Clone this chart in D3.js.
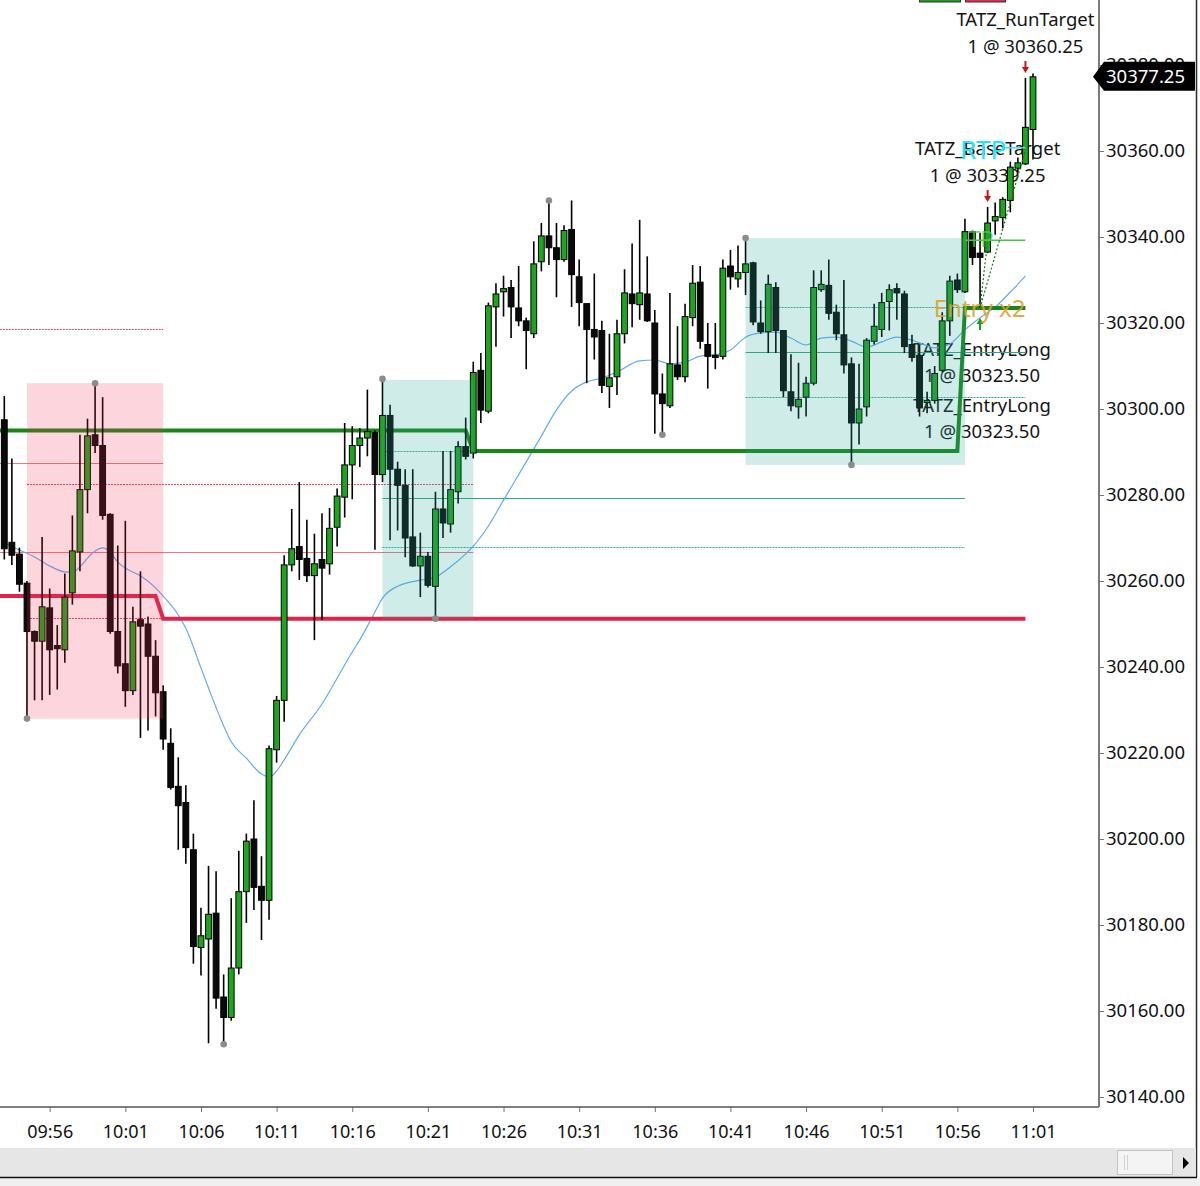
<!DOCTYPE html>
<html>
<head>
<meta charset="utf-8">
<script src="https://cdn.jsdelivr.net/npm/d3@7"></script>
<style>
  body { margin: 0; background: #fff; }
  svg { display: block; font-family: "Noto Sans", "Open Sans", sans-serif; }
</style>
</head>
<body>
<svg id="chart" width="1200" height="1186"></svg>
<script>
// 30 second bars, first bar stamped 09:53:00
var BAR_START = "09:53:00";
var BAR_SECONDS = 30;

var opens = [30297.5,30269,30266.25,30259.5,30248.25,30246,30253.75,30245,30244,30257.25,
  30266.75,30281.25,30294,30291.5,30275.5,30248.25,30240.75,30234.5,30251,30250,
  30242.5,30234.25,30222.25,30212.25,30208.5,30197.5,30174.75,30176.75,30182.75,30163.25,
  30158.5,30170,30187.75,30200,30189,30185.75,30220.75,30232.25,30263.75,30268,
  30265.25,30261.25,30265,30264,30272.5,30279.5,30287,30291.5,30293.25,30294.5,
  30284.75,30298.5,30286,30282.25,30270.25,30263.5,30265.75,30258.75,30276.75,30273.25,
  30280.75,30291.25,30289.75,30309,30299.5,30323.75,30327.25,30328.25,30323.5,30320.5,
  30317.5,30334.25,30340.25,30337.5,30334.75,30341.75,30330.75,30324.5,30318.5,30318.25,
  30305.25,30307.5,30317.5,30326.75,30324.25,30326.75,30320,30303.5,30300.75,30310.25,
  30307.5,30321.25,30329.5,30315,30312.5,30312.25,30333.25,30330.25,30331.75,30334,
  30320,30318,30328.25,30318.25,30304,30300.5,30302.75,30306,30327.75,30328.75,
  30322.5,30317.25,30310.5,30296.75,30300.5,30315.75,30318.5,30325,30328,30326.75,
  30315,30312.5,30301.5,30302,30309,30320.5,30330,30327.25,30341.25,30336.25,
  30336.5,30343.75,30344.5,30348.5,30356,30357,30365];
var highs = [30303,30288.5,30267.75,30260,30248.5,30270.25,30258.25,30249.75,30261.75,30275.25,
  30294,30297.75,30306,30302.75,30275.75,30268.25,30274,30254,30262.25,30251.75,
  30246.25,30235.75,30225.75,30219,30212.5,30201.25,30184,30193.75,30192.5,30168.5,
  30186.25,30197.25,30201.25,30209,30196,30221.75,30233.25,30266,30276.75,30283,
  30274.25,30271,30275.75,30277,30281.5,30296.75,30296,30295.5,30304.5,30295,
  30307,30301,30287.75,30286,30286,30271.25,30266.75,30280.75,30290.25,30290.25,
  30292.5,30298,30311,30313,30324.75,30329.25,30331,30330,30333.25,30321.25,
  30339,30343.25,30348.5,30343.25,30342.75,30348.5,30334.75,30324.5,30331.5,30320.5,
  30317.5,30320.75,30332.5,30338.5,30344,30335.5,30323,30308.25,30327,30319.25,
  30324.5,30333.5,30333.25,30320,30320,30334.75,30337,30338,30339.75,30334.25,
  30325.25,30331.25,30329.5,30318.25,30312.75,30310.75,30307.5,30332.25,30332.25,30334.75,
  30324.25,30330,30312,30310.5,30316.5,30324.5,30327,30329,30329.25,30327.5,
  30317.25,30315,30304,30310,30322.5,30331,30331.5,30344.25,30341.5,30341,
  30347,30348,30349.25,30357.5,30358.5,30377,30378];
var lows = [30265,30263.75,30257.5,30228,30232.25,30232.25,30233.5,30234.75,30241,30254.5,
  30262.25,30275.75,30289.75,30274.25,30247.75,30238.5,30230.75,30233.5,30223.5,30225.25,
  30228.5,30220.75,30211.5,30197.5,30194.25,30171,30168.25,30152.5,30160.5,30152.25,
  30157.75,30168.5,30180.5,30183.5,30176.5,30181.25,30217.75,30227.25,30262.25,30260.25,
  30259.75,30246.25,30251,30261.5,30268,30274.75,30279,30286.5,30289,30267.25,
  30283,30269.5,30271.75,30265.5,30263.25,30256.25,30258.5,30251.25,30270,30271.25,
  30278,30288.25,30288.5,30296.75,30299,30314.5,30321.5,30316.5,30319.25,30309.25,
  30316.5,30332,30333.5,30326,30334.25,30323.75,30319.25,30306,30311.5,30303.75,
  30300.25,30303.25,30315.25,30319,30320.75,30320.25,30294.25,30294,30300.25,30306.75,
  30306.25,30319.25,30314,30304.75,30309.25,30311.5,30327.75,30328.25,30326.5,30319.5,
  30317.5,30313,30313,30302.75,30299.5,30297.75,30298.25,30305.5,30327.25,30320.75,
  30316,30308.25,30287,30291.75,30298.25,30315,30316.75,30318.25,30320.75,30313,
  30311,30298.25,30299,30301.25,30308.5,30317,30327,30327,30333.5,30323.5,
  30336.25,30340.5,30342,30345.75,30355,30356.75,30358];
var closes = [30267.5,30266,30259.25,30248.25,30246,30254,30244,30244.25,30256.25,30267,
  30281.25,30293.75,30291.5,30275.25,30248.25,30240.25,30234.5,30250.5,30249.5,30242.5,
  30234,30223.25,30212,30207.75,30198,30175,30177.5,30182.5,30163,30158.5,
  30170,30187.75,30199.5,30188.75,30185.75,30221,30232.25,30263.75,30267.5,30265,
  30261.25,30264,30263,30272.25,30279.75,30287,30291.5,30293.25,30294.75,30284.75,
  30298.5,30286,30282.25,30270,30263.5,30265.75,30259,30276.75,30273.5,30281.25,
  30291.25,30289,30308.5,30299.75,30324,30326.75,30328,30323.75,30320.5,30318.25,
  30333.75,30340.25,30337.5,30334.75,30341.5,30331.25,30324.75,30318.5,30316.75,30305.5,
  30307.25,30317.5,30327,30324.5,30327,30320.5,30303.5,30301.25,30310.5,30307.5,
  30321.5,30329.25,30315.75,30312.25,30312,30332.75,30330.75,30331.75,30333.75,30320.25,
  30318,30329,30318.25,30304.25,30300.75,30302.25,30306,30328.25,30329,30322.25,
  30317.5,30310.25,30296.75,30300,30316,30319.25,30324.75,30327.75,30327,30314.5,
  30312,30300.25,30302,30308.25,30320.5,30329.75,30327.75,30341.25,30335.25,30335.25,
  30343.25,30344.75,30348.75,30356.25,30357.25,30365.5,30377.25];

// moving average at some bars
var maIdx = [0,2,4,6,8,9,10,11,12,13,14,15,16,18,20,21,23,24,26,27,29,30,32,34,35,36,37,39,42,44,
  46,47,49,50,52,55,57,59,61,62,64,66,69,71,73,75,77,79,81,84,86,88,90,92,94,96,98,100,102,104,
  106,108,110,112,114,116,118,120,122,123,125,127,129,131,133,135];
var maVal = [30268.8,30267.2,30265.6,30263.5,30262.1,30262,30263.3,30265.3,30267,30267.7,30266.7,30264.4,30263,30261.2,30258.4,
  30256.5,30252.1,30249,30239.8,30235.1,30226.3,30222.6,30218.8,30215.1,30214.4,30215.8,30218.4,30224.2,30231.4,30237.4,
  30243.5,30246.3,30252.8,30256,30258.8,30260.2,30260.9,30263.3,30266.3,30268.1,30272.8,30278.8,30287.7,30293.7,30299.8,
  30304.2,30306.3,30307.2,30308.6,30311.2,30311.4,30310.5,30310.9,30312.3,30312.6,30313.7,30316.7,30317.7,30317.9,30316.5,
  30314.9,30316.5,30316.7,30315.8,30314.4,30315.6,30316.7,30316,30314.7,30314.2,30315.1,30318.4,30321.2,30323.7,30327.2,30330.9];

// supply / demand zones
var zoneSide = ["sell", "buy", "buy"];
var zoneFrom = [3, 50, 98];
var zoneTo = [21, 62, 127];
var zoneHigh = [30306, 30306.75, 30339.75];
var zoneLow = [30228, 30251.25, 30287];

// zone levels
var levelPrice = [30318.5, 30287.5, 30282.5, 30266.75, 30251.5, 30290.25, 30279.25, 30268, 30323.75, 30313.25, 30302.75];
var levelFrom = [-1, -1, 3, -1, 3, 50, 50, 50, 98, 98, 98];
var levelTo = [21, 21, 62, 62, 21, 62, 127, 127, 135, 135, 135];
var levelKind = ["sellDot", "sell", "sellDot", "sell", "sellDot", "buyDot", "buy", "buyDot", "buyDot", "buy", "buyDot"];

// trailing lines
var longLineIdx = [-1, 61, 62, 126, 127, 135];
var longLinePrice = [30295, 30295, 30290.25, 30290.25, 30323.5, 30323.5];
var shortLineIdx = [-1, 20, 21, 135];
var shortLinePrice = [30256.5, 30256.5, 30251.25, 30251.25];

// swing points
var swingIdx = [3, 12, 29, 50, 57, 72, 87, 98, 112];
var swingSide = ["L", "H", "L", "H", "L", "H", "L", "H", "L"];

// executions
var entryNames = ["TATZ_EntryLong", "TATZ_EntryLong"];
var entryIdx = [129, 129];
var entryPrice = [30323.5, 30323.5];
var entryQty = [1, 1];
var exitNames = ["TATZ_BaseTarget", "TATZ_RunTarget"];
var exitIdx = [130, 135];
var exitPrice = [30339.25, 30360.25];
var exitQty = [1, 1];
var tpPrice = 30339.25;
var rtpPrice = 30360.75;

var priceTicks = [30140, 30160, 30180, 30200, 30220, 30240, 30260, 30280, 30300, 30320, 30340, 30360, 30380];
var timeTicks = ["09:56", "10:01", "10:06", "10:11", "10:16", "10:21", "10:26", "10:31", "10:36", "10:41", "10:46", "10:51", "10:56", "11:01"];

var svg = d3.select("#chart");
var W = 1200, H = 1186;
var PLOT_R = 1099, PLOT_B = 1107;

var parseBar = d3.timeParse("%H:%M:%S");
var parseTick = d3.timeParse("%H:%M");
var t0 = parseBar(BAR_START);
function barTime(i) { return d3.timeSecond.offset(t0, i * BAR_SECONDS); }

var x = d3.scaleTime().domain([barTime(0), barTime(closes.length - 1)]).range([4.3, 1033]);
var y = d3.scaleLinear().domain([30140, 30360]).range([1097, 151]);
function xi(i) { return x(barTime(i)); }
var fmt2 = d3.format(".2f");

svg.append("rect").attr("width", W).attr("height", H).attr("fill", "#fff");

svg.append("defs").append("clipPath").attr("id", "plotclip")
  .append("rect").attr("x", 0).attr("y", 0).attr("width", PLOT_R).attr("height", PLOT_B);

var plot = svg.append("g").attr("clip-path", "url(#plotclip)");

// execution labels sit under the candles
var lblG = plot.append("g").attr("font-size", 18.5).attr("fill", "#151515").attr("text-anchor", "middle");
exitNames.forEach(function(name, k) {
  var base = y(highs[exitIdx[k]]) - 25;
  lblG.append("text").attr("x", xi(exitIdx[k])).attr("y", base - 26.5).text(name);
  lblG.append("text").attr("x", xi(exitIdx[k])).attr("y", base).text(exitQty[k] + " @ " + fmt2(exitPrice[k]));
});
var entryOff = [[48, 74], [104, 130]];
entryNames.forEach(function(name, k) {
  var low = y(lows[entryIdx[k]]);
  lblG.append("text").attr("x", xi(entryIdx[k]) + 2).attr("y", low + entryOff[k][0]).text(name);
  lblG.append("text").attr("x", xi(entryIdx[k]) + 2).attr("y", low + entryOff[k][1]).text(entryQty[k] + " @ " + fmt2(entryPrice[k]));
});

// zone levels
var levelStyle = {
  sell: {stroke: "#f07484", dash: null},
  sellDot: {stroke: "#ee4560", dash: "2,1"},
  buy: {stroke: "#2aa78c", dash: null},
  buyDot: {stroke: "#2eae96", dash: "2,1"}
};
levelPrice.forEach(function(p, k) {
  var st = levelStyle[levelKind[k]];
  plot.append("line")
    .attr("x1", xi(levelFrom[k])).attr("x2", xi(levelTo[k]))
    .attr("y1", Math.round(y(p)) + 0.5).attr("y2", Math.round(y(p)) + 0.5)
    .attr("stroke", st.stroke).attr("stroke-width", 1)
    .attr("stroke-dasharray", st.dash);
});

// moving average
var maLine = d3.line()
  .x(function(d) { return xi(d[0]); })
  .y(function(d) { return y(d[1]); })
  .curve(d3.curveMonotoneX);
plot.append("path")
  .datum(maIdx.map(function(d, k) { return [d, maVal[k]]; }))
  .attr("d", maLine)
  .attr("fill", "none").attr("stroke", "#62acf4").attr("stroke-width", 1.2);

// trailing lines
var stepLine = d3.line().x(function(d) { return xi(d[0]); }).y(function(d) { return y(d[1]); });
plot.append("path")
  .datum(shortLineIdx.map(function(d, k) { return [d, shortLinePrice[k]]; }))
  .attr("d", stepLine).attr("fill", "none").attr("stroke", "#e0234b").attr("stroke-width", 4);
plot.append("path")
  .datum(longLineIdx.map(function(d, k) { return [d, longLinePrice[k]]; }))
  .attr("d", stepLine).attr("fill", "none").attr("stroke", "#1a861a").attr("stroke-width", 4);

// candles
var candles = d3.range(closes.length).map(function(i) {
  return {i: i, o: opens[i], h: highs[i], l: lows[i], c: closes[i]};
});
var cg = plot.append("g");
cg.selectAll("line.wick").data(candles).enter().append("line")
  .attr("class", "wick")
  .attr("x1", function(d) { return xi(d.i); }).attr("x2", function(d) { return xi(d.i); })
  .attr("y1", function(d) { return y(d.h); }).attr("y2", function(d) { return y(d.l); })
  .attr("stroke", "#000").attr("stroke-width", 1.6);
cg.selectAll("rect.body").data(candles).enter().append("rect")
  .attr("class", "body")
  .attr("x", function(d) { return xi(d.i) - 2.9; })
  .attr("width", 5.8)
  .attr("y", function(d) { return y(Math.max(d.o, d.c)); })
  .attr("height", function(d) { return Math.max(1, Math.abs(y(d.o) - y(d.c))); })
  .attr("fill", function(d) { return d.c >= d.o ? "#1ea51e" : "#0a0a0a"; })
  .attr("stroke", "#000").attr("stroke-width", 1);

// zones are drawn over the bars
zoneSide.forEach(function(s, k) {
  plot.append("rect")
    .attr("x", xi(zoneFrom[k])).attr("width", xi(zoneTo[k]) - xi(zoneFrom[k]))
    .attr("y", y(zoneHigh[k])).attr("height", y(zoneLow[k]) - y(zoneHigh[k]))
    .attr("fill", s === "sell" ? "rgb(240,50,80)" : "rgb(40,170,150)")
    .attr("fill-opacity", s === "sell" ? 0.2 : 0.22);
});

// trade markers
var tg = plot.append("g");
tg.append("line")
  .attr("x1", xi(127)).attr("x2", xi(135))
  .attr("y1", y(tpPrice)).attr("y2", y(tpPrice))
  .attr("stroke", "#47c447").attr("stroke-width", 1.5);
tg.append("line")
  .attr("x1", xi(132)).attr("x2", xi(135))
  .attr("y1", y(rtpPrice)).attr("y2", y(rtpPrice))
  .attr("stroke", "#3de0ee").attr("stroke-width", 1.5);
exitIdx.forEach(function(ix, k) {
  tg.append("line")
    .attr("x1", xi(entryIdx[k])).attr("y1", y(entryPrice[k]))
    .attr("x2", xi(ix)).attr("y2", y(exitPrice[k]))
    .attr("stroke", "#1a7a1a").attr("stroke-width", 1.2).attr("stroke-dasharray", "2,2");
  // red down arrow above the exit bar
  var ax = xi(ix), ay = y(highs[ix]) - 5;
  tg.append("path")
    .attr("d", "M" + (ax - 1) + "," + (ay - 12) + "h2v6h2.5l-3.5,6l-3.5,-6h2.5z")
    .attr("fill", "#c81414");
});
var ex = xi(entryIdx[0]), ey = y(lows[entryIdx[0]]) + 10;
tg.append("path")
  .attr("d", "M" + ex + "," + ey + "l3.5,6h-2.5v6h-2v-6h-2.5z")
  .attr("fill", "#1a9a1a");

tg.append("text").attr("x", xi(135)).attr("y", y(entryPrice[0]) + 9)
  .attr("text-anchor", "end").attr("font-size", 24).attr("fill", "#dca12c").attr("fill-opacity", 0.9)
  .text("Entry x2");
tg.append("text").attr("x", xi(127) + 3).attr("y", y(tpPrice) + 7)
  .attr("font-size", 22).attr("fill", "#44cc44").attr("fill-opacity", 0.8)
  .text("TP");
tg.append("text").attr("x", xi(127) - 5).attr("y", y(rtpPrice) + 11)
  .attr("font-size", 26).attr("fill", "#1ee6fa")
  .text("RTP");

// swing dots
swingIdx.forEach(function(ix, k) {
  plot.append("circle")
    .attr("cx", xi(ix)).attr("cy", y(swingSide[k] === "H" ? highs[ix] : lows[ix]))
    .attr("r", 3.3).attr("fill", "#8c8c8c");
});

// legend swatches at the top edge
svg.append("rect").attr("x", 919.5).attr("y", -3).attr("width", 41).attr("height", 5)
  .attr("fill", "#239a23").attr("stroke", "#333").attr("stroke-width", 1);
svg.append("rect").attr("x", 965.5).attr("y", -3).attr("width", 40).attr("height", 5)
  .attr("fill", "#e0304c").attr("stroke", "#333").attr("stroke-width", 1);

// price axis
var yAxis = d3.axisRight(y).tickValues(priceTicks).tickSize(5).tickPadding(2).tickFormat(fmt2);
var ya = svg.append("g").attr("transform", "translate(" + PLOT_R + ",0)").call(yAxis);
ya.select(".domain").remove();
ya.selectAll("line").attr("stroke", "#777");
ya.selectAll("text").attr("font-size", 18.5).attr("fill", "#111").attr("font-family", "Noto Sans");

// time axis
var xAxis = d3.axisBottom(x).tickValues(timeTicks.map(parseTick))
  .tickFormat(d3.timeFormat("%H:%M")).tickSize(5).tickPadding(13);
var xa = svg.append("g").attr("transform", "translate(0," + PLOT_B + ")").call(xAxis);
xa.select(".domain").remove();
xa.selectAll("line").attr("stroke", "#777");
xa.selectAll("text").attr("font-size", 18).attr("fill", "#111").attr("font-family", "Noto Sans");

// frame lines
svg.append("line").attr("x1", 0).attr("x2", PLOT_R).attr("y1", PLOT_B).attr("y2", PLOT_B)
  .attr("stroke", "#555").attr("stroke-width", 1.5);
svg.append("line").attr("x1", PLOT_R).attr("x2", PLOT_R).attr("y1", 0).attr("y2", PLOT_B)
  .attr("stroke", "#7a7a7a").attr("stroke-width", 2);
svg.append("line").attr("x1", 1196.5).attr("x2", 1196.5).attr("y1", 0).attr("y2", 1177)
  .attr("stroke", "#2a2a2a").attr("stroke-width", 1.5);

// last price tag
var lp = closes[closes.length - 1], ly = y(lp);
svg.append("path")
  .attr("d", "M1093," + ly + "L1104," + (ly - 15) + "H1195V" + (ly + 14) + "H1104Z")
  .attr("fill", "#000");
svg.append("text").attr("x", 1106).attr("y", ly).attr("dy", "0.34em")
  .attr("font-size", 18.5).attr("fill", "#fff").text(fmt2(lp));

// scroll bar
svg.append("rect").attr("x", 0).attr("y", 1148).attr("width", 1196).attr("height", 29).attr("fill", "#e6e6e6");
svg.append("rect").attr("x", 0).attr("y", 1178).attr("width", W).attr("height", 8).attr("fill", "#f0f0f0");
svg.append("line").attr("x1", 0).attr("x2", 1197).attr("y1", 1177.5).attr("y2", 1177.5)
  .attr("stroke", "#111").attr("stroke-width", 1.5);
svg.append("rect").attr("x", 1117.5).attr("y", 1150.5).attr("width", 55).attr("height", 24)
  .attr("fill", "#f4f4f4").attr("stroke", "#c4c4c4");
[1124.5, 1127.5].forEach(function(gx) {
  svg.append("line").attr("x1", gx).attr("x2", gx).attr("y1", 1155).attr("y2", 1170).attr("stroke", "#d2d2d2");
});
svg.append("path").attr("d", "M1183,1157L1189,1163L1183,1169Z").attr("fill", "#000");
</script>
</body>
</html>
